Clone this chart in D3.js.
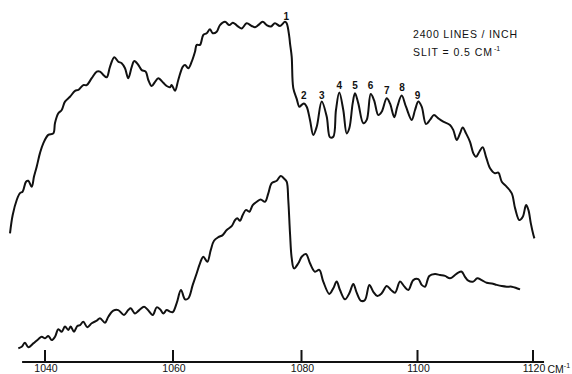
<!DOCTYPE html>
<html><head><meta charset="utf-8">
<script src="https://cdn.jsdelivr.net/npm/d3@7"></script>
<style>
html,body{margin:0;padding:0;background:#fff;}
svg{display:block;}
</style></head>
<body><svg id="c" width="572" height="374"></svg>
<script>
// wavenumber (cm^-1), relative intensity (arbitrary units)
const upperWn = [1034.61,1035.03,1035.66,1036.17,1036.59,1037.11,1037.47,1038.0,1038.36,1038.78,1039.30,1039.81,1040.59,1041.38,1041.64,1042.16,1042.69,1043.20,1043.98,1044.77,1045.28,1046.06,1046.59,1047.38,1048.16,1048.67,1049.19,1049.72,1050.23,1050.91,1051.53,1052.06,1052.58,1053.09,1053.63,1054.03,1054.66,1055.19,1055.81,1056.22,1056.75,1057.27,1057.78,1058.56,1059.09,1059.61,1059.88,1060.39,1060.90,1061.59,1061.95,1062.46,1062.99,1063.50,1063.77,1064.28,1064.79,1065.32,1065.84,1066.26,1066.88,1067.39,1068.17,1068.84,1069.37,1069.73,1070.24,1070.77,1071.55,1072.33,1072.84,1073.35,1074.04,1074.66,1075.28,1075.95,1076.73,1077.51,1077.77,1078.18,1078.29,1078.55,1078.80,1079.33,1079.74,1080.12,1080.52,1080.98,1081.55,1082.12,1082.71,1083.57,1084.43,1085.00,1085.57,1086.03,1086.60,1087.29,1087.88,1088.33,1088.91,1089.31,1089.88,1090.74,1091.33,1092.02,1092.59,1093.33,1093.91,1094.78,1095.34,1096.09,1096.60,1097.36,1098.10,1099.09,1099.66,1100.23,1100.81,1101.56,1102.25,1102.94,1103.69,1104.55,1105.71,1106.29,1106.88,1107.45,1107.92,1108.49,1109.18,1109.75,1110.22,1110.79,1111.38,1111.95,1112.65,1113.51,1114.09,1114.68,1115.54,1116.41,1116.99,1117.73,1118.32,1118.89,1119.29,1119.71,1120.16,1120.33];
const upperVal = [42.9,49.0,54.0,56.3,56.8,60.1,60.4,58.4,61.8,65.1,69.7,72.9,75.7,76.2,79.7,82.9,84.0,86.8,88.4,90.4,90.7,92.3,92.3,94.6,96.8,96.8,95.7,94.9,98.4,101.6,100.1,99.6,97.9,94.6,98.4,100.3,99.0,97.3,96.8,94.0,92.0,93.4,94.6,93.1,92.0,91.6,92.3,90.4,94.0,98.4,99.0,97.9,100.1,103.4,105.7,105.7,109.0,109.6,110.9,109.6,110.1,112.3,113.4,112.3,113.1,112.7,111.8,111.2,112.9,112.0,111.6,112.3,113.4,112.3,111.8,112.9,112.0,113.4,112.9,108.4,106.2,101.8,91.3,87.7,85.1,85.7,86.2,85.1,80.7,75.7,78.4,86.8,81.8,74.9,75.1,84.0,89.8,84.0,76.2,77.9,86.2,89.6,86.2,79.6,80.7,89.3,87.3,82.3,83.4,87.9,86.2,81.6,85.1,88.8,85.1,80.7,84.0,86.8,85.1,79.3,80.7,82.3,81.2,80.1,79.0,77.3,74.0,76.2,78.2,76.2,73.4,69.6,68.4,70.1,71.6,68.4,64.6,62.9,63.1,60.1,58.4,56.2,51.2,47.3,48.4,52.3,50.7,46.2,42.3,41.2];

const lowerWn = [1035.91,1036.44,1036.95,1037.47,1038.25,1039.03,1039.56,1040.08,1040.59,1041.13,1041.64,1042.16,1042.69,1043.20,1043.72,1044.09,1044.61,1045.13,1045.55,1046.06,1046.69,1047.38,1048.16,1048.67,1049.45,1049.97,1050.75,1051.53,1052.42,1053.09,1053.47,1054.14,1054.81,1055.55,1056.06,1056.91,1057.53,1058.05,1058.56,1059.09,1059.61,1060.03,1060.65,1061.32,1061.95,1062.46,1063.15,1063.77,1064.28,1064.79,1065.42,1065.95,1066.46,1067.13,1067.81,1068.44,1069.21,1069.73,1070.09,1070.51,1070.93,1071.44,1071.96,1072.49,1073.11,1073.73,1074.40,1074.91,1075.44,1076.22,1076.84,1077.35,1077.77,1078.02,1078.29,1078.55,1078.91,1079.58,1080.12,1080.86,1081.55,1082.41,1083.15,1083.84,1084.88,1085.57,1086.15,1086.72,1087.59,1088.33,1089.02,1089.60,1090.34,1091.03,1091.78,1092.47,1093.16,1093.91,1094.78,1095.52,1096.21,1097.07,1097.76,1098.50,1099.36,1100.23,1100.81,1101.39,1102.13,1103.12,1103.98,1104.85,1105.71,1106.58,1107.15,1107.74,1108.31,1108.88,1109.75,1110.44,1111.20,1112.07,1112.94,1113.80,1114.68,1115.54,1116.41,1117.27,1117.84];
const lowerVal = [4.6,5.1,6.4,4.9,6.2,7.6,8.4,7.9,8.7,7.3,8.4,10.9,10.1,11.8,10.7,11.8,10.1,12.0,12.3,13.4,11.6,12.9,13.8,14.6,13.1,15.1,17.1,17.3,15.7,17.3,17.9,16.2,17.3,18.4,17.6,15.7,18.2,17.6,16.2,17.3,16.8,16.6,19.6,24.0,20.9,21.2,25.7,29.6,32.9,35.1,33.4,37.3,40.4,41.6,42.3,44.0,45.3,47.3,47.9,47.1,49.0,50.7,50.1,52.3,53.4,54.2,53.4,56.2,59.6,60.4,62.0,61.2,60.1,54.0,42.9,34.7,31.2,32.9,35.1,36.0,32.9,30.1,30.7,26.8,22.7,24.6,26.8,24.0,20.9,22.9,26.0,23.1,20.4,20.7,25.7,23.4,22.0,22.9,25.3,24.0,23.1,26.8,25.3,24.0,27.3,27.6,25.7,25.1,28.7,29.3,29.0,28.7,27.9,29.0,29.8,30.1,28.4,27.1,26.8,27.9,27.3,26.4,26.2,25.7,25.3,25.1,25.1,24.6,24.2];

const tickValues = [1040, 1060, 1080, 1100, 1120];
const tickLabels = ["1040", "1060", "1080", "1100", "1120"];
const peakLabels = ["1","2","3","4","5","6","7","8","9"];
const peakWn = [1077.7, 1080.5, 1083.6, 1086.6, 1089.3, 1092.0, 1094.8, 1097.4, 1100.1];
const peakVal = [115.2, 88.8, 89.0, 92.1, 92.1, 92.1, 90.4, 91.4, 89.0];
const noteLines = ["2400  LINES / INCH", "SLIT = 0.5 CM"];
const axisExtent = [1036.5, 1122];

const font = "Liberation Sans, Arial, sans-serif";
const svg = d3.select("#c");
// chart paper is non-uniform: piecewise linear wavenumber scale through the tick marks
const x = d3.scaleLinear().domain(tickValues).range([44.5, 172.5, 301, 417, 532.5]);
const y = d3.scaleLinear().domain([0, 120]).range([362, 2]);

const line = d3.line().x(d => x(d[0])).y(d => y(d[1])).curve(d3.curveCatmullRom.alpha(0.5));

svg.append("path").datum(d3.zip(upperWn, upperVal))
  .attr("d", line).attr("fill", "none").attr("stroke", "#111").attr("stroke-width", 2).attr("stroke-linejoin", "round");
svg.append("path").datum(d3.zip(lowerWn, lowerVal))
  .attr("d", line).attr("fill", "none").attr("stroke", "#111").attr("stroke-width", 2).attr("stroke-linejoin", "round");

// axis
svg.append("line").attr("x1", x(axisExtent[0])).attr("x2", x(axisExtent[1]))
  .attr("y1", y(0)).attr("y2", y(0)).attr("stroke", "#111").attr("stroke-width", 2);
const ax = d3.axisBottom(x).tickValues(tickValues).tickFormat((d, i) => tickLabels[i])
  .tickSize(-12).tickSizeOuter(0).tickPadding(3);
const g = svg.append("g").attr("transform", `translate(0,${y(0)})`).call(ax);
g.select(".domain").remove();
g.selectAll(".tick line").attr("stroke", "#111").attr("stroke-width", 2);
g.selectAll(".tick text").attr("fill", "#111").attr("font-family", font)
  .attr("font-size", 10.5).attr("dx", 1);
svg.append("text").attr("x", x(1120) + 15).attr("y", y(0) + 10.5)
  .attr("font-family", font).attr("font-size", 10.5).attr("fill", "#111")
  .text("CM").append("tspan").attr("dy", -5).attr("font-size", 7).text("-1");

// peak numbers
svg.append("g").selectAll("text").data(peakLabels).join("text")
  .attr("x", (d, i) => x(peakWn[i])).attr("y", (d, i) => y(peakVal[i]))
  .attr("dy", "0.35em")
  .attr("text-anchor", "middle").attr("font-family", font)
  .attr("font-size", 10).attr("font-weight", "bold").attr("fill", "#111").text(d => d);

// note
const nt = svg.append("g").attr("font-family", font).attr("font-size", 10.5).attr("fill", "#111");
nt.append("text").attr("x", 413).attr("y", 38).attr("textLength", 104).attr("lengthAdjust", "spacing").text(noteLines[0]);
const t2 = nt.append("text").attr("x", 413).attr("y", 56);
t2.append("tspan").attr("textLength", 79).attr("lengthAdjust", "spacing").text(noteLines[1]);
t2.append("tspan").attr("dx", 1).attr("dy", -5).attr("font-size", 7).text("-1");
</script></body></html>
